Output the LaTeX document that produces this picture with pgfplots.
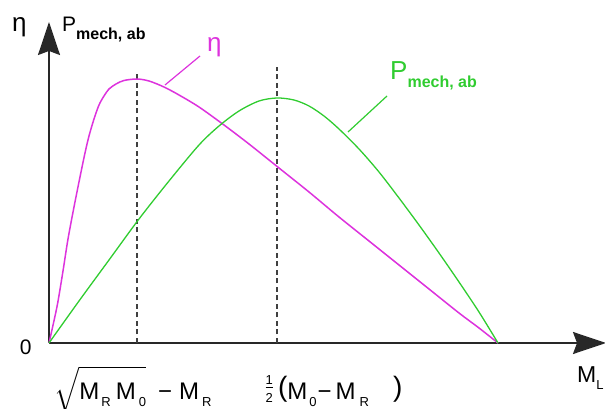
\documentclass[border=0pt]{standalone}
\usepackage{exscale}
\usepackage{pgfplots}
\pgfplotsset{compat=1.18}
\usetikzlibrary{arrows.meta}
\usepackage{fontspec}
\setmainfont{Liberation Sans}
\definecolor{mag}{RGB}{221,51,221}
\definecolor{grn}{RGB}{48,204,48}
\definecolor{axc}{RGB}{40,40,40}
\definecolor{dsh}{RGB}{64,64,64}
\newcommand{\sub}[1]{\raisebox{-6.5pt}{\fontsize{13}{13}\selectfont #1}}
\newcommand{\subb}[1]{\raisebox{-8pt}{\fontsize{16}{16}\selectfont\bfseries #1}}
\begin{document}
\begin{tikzpicture}
\begin{axis}[
  anchor=origin, at={(0pt,0pt)},
  x=1pt, y=1pt,
  xmin=0, xmax=557, ymin=0, ymax=321,
  axis lines=left,
  clip=false,
  every outer x axis line/.append style={-{Stealth[length=33pt,width=22pt,inset=4pt]}, line width=1.7pt, axc},
  every outer y axis line/.append style={-{Stealth[length=33pt,width=22pt,inset=4pt]}, line width=1.7pt, axc},
  major tick length=0pt,
  xtick={88}, xticklabels={$\sqrt{\rule[-7pt]{0pt}{32pt}\mbox{M\hspace{2pt}\sub{R}\hspace{5pt}M\hspace{3pt}\sub{0}}}$\hspace{12pt}−\hspace{7pt}M\hspace{3pt}\sub{R}},
  extra x ticks={228},
  extra x tick labels={\raisebox{6pt}{$\frac{\mbox{\fontsize{13}{13}\selectfont 1}}{\mbox{\fontsize{13}{13}\selectfont 2}}$}\hspace{4pt}\raisebox{3pt}{\fontsize{28}{28}\selectfont(}M\hspace{2pt}\sub{0}\hspace{1pt}−\hspace{4pt}M\hspace{4pt}\sub{R}\hspace{24pt}\raisebox{3pt}{\fontsize{28}{28}\selectfont)}},
  extra x tick style={xticklabel style={anchor=base west, xshift=-12pt}},
  xticklabel style={anchor=base, yshift=-57pt, xshift=-4pt},
  ytick={0}, yticklabels={0},
  yticklabel style={anchor=base east, xshift=-14pt, yshift=-12pt, font=\fontsize{21}{24}\selectfont},
  xticklabel style={font=\fontsize{24}{26}\selectfont},
  /pgf/number format/assume math mode=true,
]
% dashed guides
\addplot[dsh, line width=2pt, dash pattern=on 5pt off 3.5pt] coordinates {(88,0) (88,271)};
\addplot[dsh, line width=2pt, dash pattern=on 5pt off 3.5pt] coordinates {(228,0) (228,276)};
% efficiency eta
\addplot[mag, line width=1.5pt, smooth, tension=0.5] coordinates {
(0,0) (4.5,20) (8.7,40) (14,72) (19,104) (25,136) (31,166) (36,190) (40,207)
(45,224) (50,238) (55,247) (60,254) (67,259) (75,262.5) (88,264) (100,262)
(115,256) (130,248) (150,236) (175,218) (200,199) (230,175) (260,151) (290,126)
(320,102) (350,78) (380,54) (410,30) (430,15) (449,0)};
% mechanical power
\addplot[grn, line width=1.3pt, smooth, tension=0.5] coordinates {
(0,0) (30,42) (60,83) (90,124) (120,162) (150,198) (170,217) (190,232) (210,242)
(228,245) (245,243) (260,237) (275,227) (290,214) (310,194) (330,171) (350,145)
(370,118) (390,90) (410,61) (430,31) (449,0)};
% leader lines
\addplot[mag, line width=1.2pt] coordinates {(116,258) (151,287)};
\addplot[grn, line width=1.2pt] coordinates {(299,211) (338,247)};
% curve labels
\node[anchor=base west, inner sep=0pt, text=mag, font=\fontsize{26}{26}\selectfont] at (axis cs:158,291) {η};
\node[anchor=base west, inner sep=0pt, text=grn, font=\fontsize{26}{26}\selectfont] at (axis cs:341,263) {P\subb{mech, ab}};
% axis labels
\node[anchor=base west, inner sep=0pt, font=\fontsize{26}{26}\selectfont] at (axis cs:-37,311) {η};
\node[anchor=base west, inner sep=0pt, font=\fontsize{21}{21}\selectfont] at (axis cs:13,311) {P\subb{mech, ab}};
\node[anchor=base west, inner sep=0pt, font=\fontsize{23}{23}\selectfont] at (axis cs:528,-40) {M\sub{L}};
\end{axis}
\pgfresetboundingbox
\useasboundingbox (-49pt,-66pt) rectangle (556pt,343pt);
\end{tikzpicture}
\end{document}
